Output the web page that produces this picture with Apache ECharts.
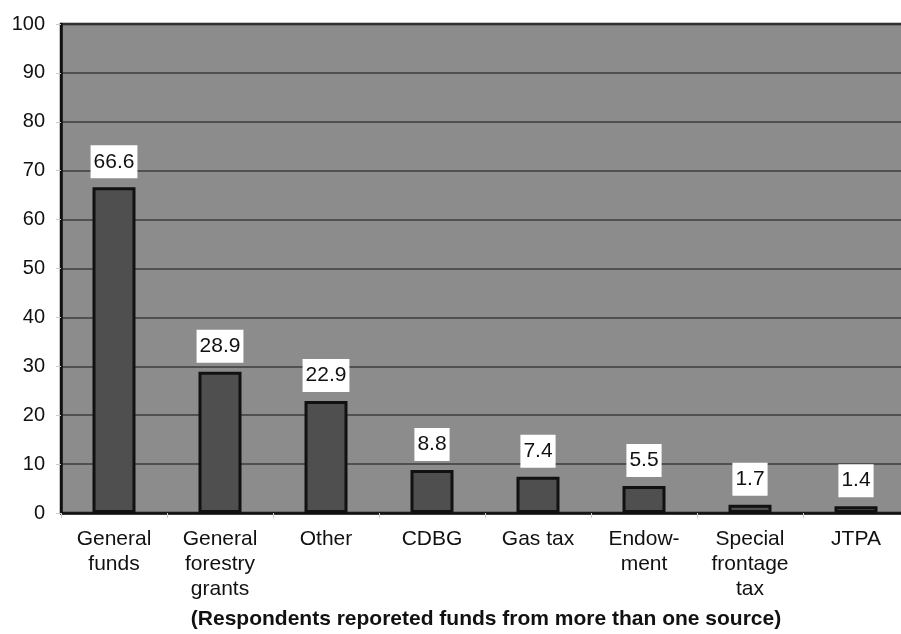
<!DOCTYPE html>
<html><head><meta charset="utf-8">
<script src="https://cdn.jsdelivr.net/npm/echarts@6/dist/echarts.min.js"></script>
<style>html,body{margin:0;padding:0;background:#fff;overflow:hidden}#c{width:901px;height:634px}</style>
</head><body><div id="c"></div>
<script>
const categories = ['General\nfunds', 'General\nforestry\ngrants', 'Other', 'CDBG', 'Gas tax', 'Endow-\nment', 'Special\nfrontage\ntax', 'JTPA'];
const values = [66.6, 28.9, 22.9, 8.8, 7.4, 5.5, 1.7, 1.4];
const yTicks = { min: 0, max: 100, interval: 10 };
const footnote = '(Respondents reporeted funds from more than one source)';

const chart = echarts.init(document.getElementById('c'), null, { renderer: 'canvas' });
const font = 'Liberation Sans, Arial, Helvetica, sans-serif';
chart.setOption({
  animation: false,
  backgroundColor: '#ffffff',
  grid: { left: 61, width: 848, top: 24, height: 489, outerBoundsMode: 'none', containLabel: false, show: true, backgroundColor: '#8c8c8c', borderColor: '#111', borderWidth: 2.5 },
  xAxis: {
    type: 'category',
    data: categories,
    axisLine: { lineStyle: { color: '#111', width: 2.5 } },
    axisTick: { show: true, length: 5, lineStyle: { color: '#ccc' } },
    axisLabel: { color: '#111', fontSize: 21, fontFamily: font, lineHeight: 25, margin: 14, interval: 0 }
  },
  yAxis: {
    type: 'value',
    min: yTicks.min, max: yTicks.max, interval: yTicks.interval,
    axisLine: { show: true, lineStyle: { color: '#111', width: 2.5 } },
    axisTick: { show: true, length: 5, lineStyle: { color: '#ccc' } },
    axisLabel: { color: '#111', fontSize: 20, fontFamily: font, margin: 16 },
    splitLine: { lineStyle: { color: '#3c3c3c', width: 1.5 } }
  },
  series: [{
    type: 'bar',
    data: values,
    barWidth: 43,
    itemStyle: { color: '#4f4f4f', borderColor: '#111', borderWidth: 3 },
    label: {
      show: true, position: 'top', distance: 9,
      backgroundColor: '#fff', color: '#111', fontSize: 21, fontFamily: font,
      padding: [6, 3, 6, 3]
    }
  }],
  graphic: [{
    type: 'text', x: 486, y: 619,
    style: { text: footnote, fontSize: 21, fontWeight: 'bold', fontFamily: font, fill: '#111', align: 'center', verticalAlign: 'middle' }
  }]
});
</script></body></html>
